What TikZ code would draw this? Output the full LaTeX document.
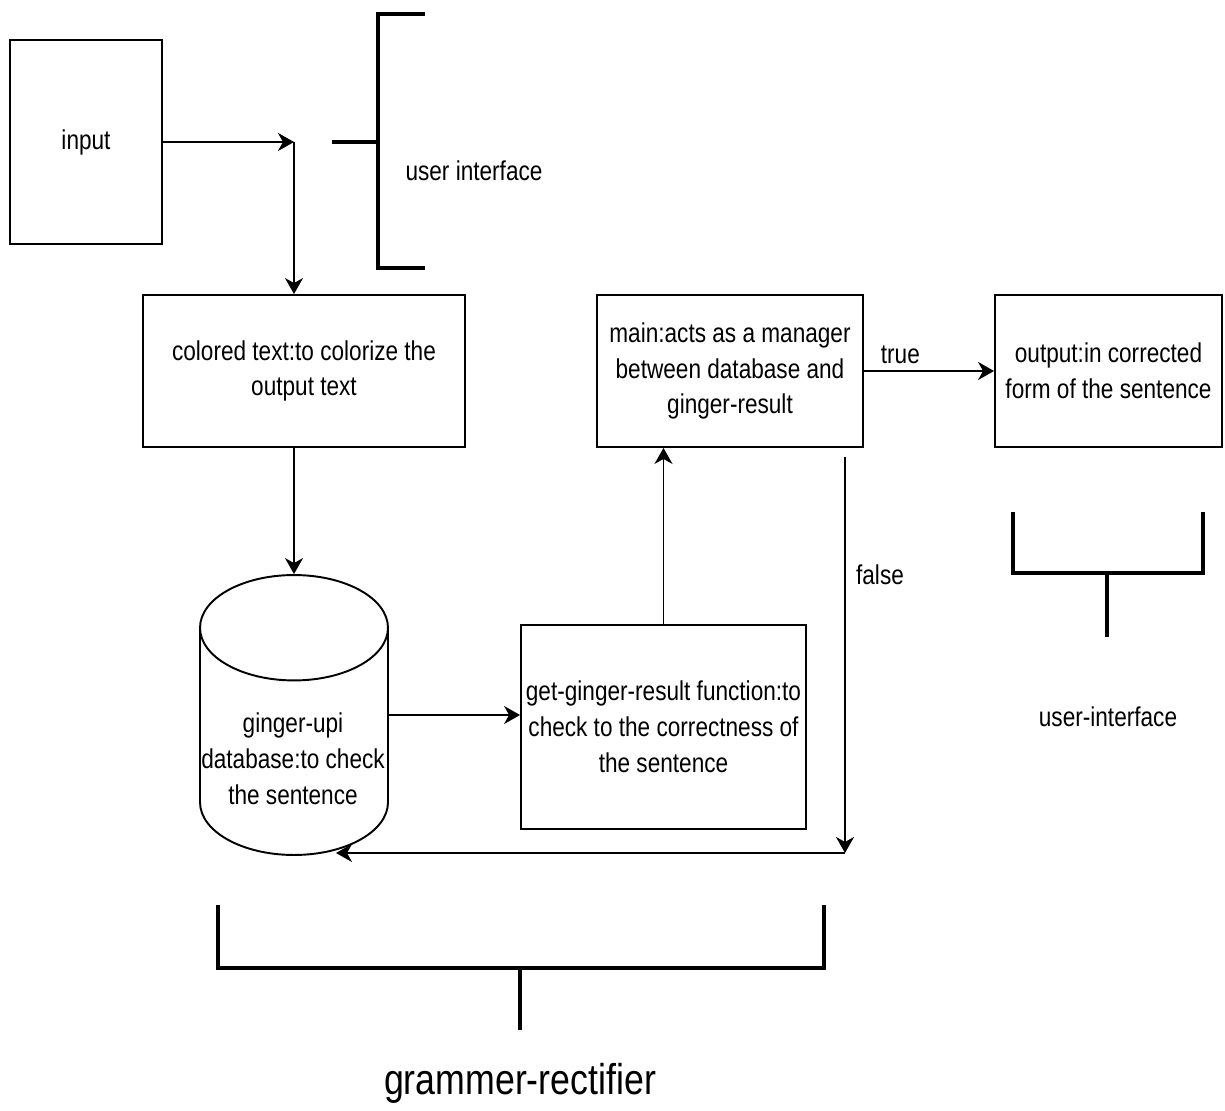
\documentclass[tikz,border=0pt]{standalone}
\usepackage{fontspec}
\setmainfont[FakeStretch=0.83]{Liberation Sans}
\usetikzlibrary{arrows.meta,shapes.geometric}

\begin{document}
\begin{tikzpicture}[x=0.02cm,y=-0.02cm,
  txt/.style={font=\fontsize{15.5}{20.4}\selectfont},
  box/.style={draw,line width=1.1pt,align=center,inner sep=1pt,txt},
  arr/.style={-{Stealth[length=0.32cm,width=0.36cm,inset=0.1cm]},line width=1.1pt},
  brace/.style={line width=2.4pt}]
\useasboundingbox[fill=white] (0,0) rectangle (1225,1111);

% boxes
\node[box,minimum width=3.04cm,minimum height=4.08cm] (input) at (86,142) {input};
\node[box,minimum width=6.44cm,minimum height=3.04cm] (colored) at (304,371)
  {colored text:to colorize the\\output text};
\node[box,minimum width=5.32cm,minimum height=3.04cm] (main) at (730,371)
  {main:acts as a manager\\between database and\\ginger-result};
\node[box,minimum width=4.54cm,minimum height=3.04cm] (output) at (1108.5,371)
  {output:in corrected\\form of the sentence};
\node[box,minimum width=5.7cm,minimum height=4.08cm] (get) at (663.5,727)
  {get-ginger-result function:to\\check to the correctness of\\the sentence};
\node[draw,line width=1.1pt,cylinder,shape border rotate=90,aspect=9,
  minimum width=3.76cm,minimum height=5.6cm] (db) at (294,751) {};
\node[txt,align=center] (dbtxt) at (293,759) {ginger-upi\\database:to check\\the sentence};

% connectors
\coordinate (turn) at (294,142);
\coordinate (fstart) at (845,457);
\coordinate (fturn) at (845,853);
\coordinate (dbhit) at (336,853);
\draw[arr] (input.east |- turn) -- (turn);
\draw[arr] (turn) -- (turn |- colored.north);
\draw[arr] (colored.south -| db.north) -- (db.north);
\draw[arr] ([yshift=0.72cm]db.east) -- ([yshift=0.72cm]db.east -| get.west);
\draw[arr] (get.north) -- (get.north |- main.south);
\draw[arr] (main.east) -- node[txt,above,pos=0.28] (true) {true} (output.west);
\draw[arr] (fstart) -- (fturn);
\draw[arr] (fturn) -- (dbhit);
\node[txt] (false) at (880,575) {false};

% brackets
\draw[brace] (425,14) -- (378,14) -- (378,268) -- (425,268);
\draw[brace] (332,142) -- (378,142);
\node[txt] (uilbl) at (474,171) {user interface};
\draw[brace] (1013,512) -- (1013,573) -- (1203,573) -- (1203,512);
\draw[brace] (1107,573) -- (1107,637);
\node[txt] (ui2lbl) at (1108,717) {user-interface};
\draw[brace] (218,905) -- (218,968) -- (824,968) -- (824,905);
\draw[brace] (520,968) -- (520,1030);
\node[font=\fontsize{24.5}{30}\selectfont] (grlbl) at (520,1083) {grammer-rectifier};
\end{tikzpicture}
\end{document}
